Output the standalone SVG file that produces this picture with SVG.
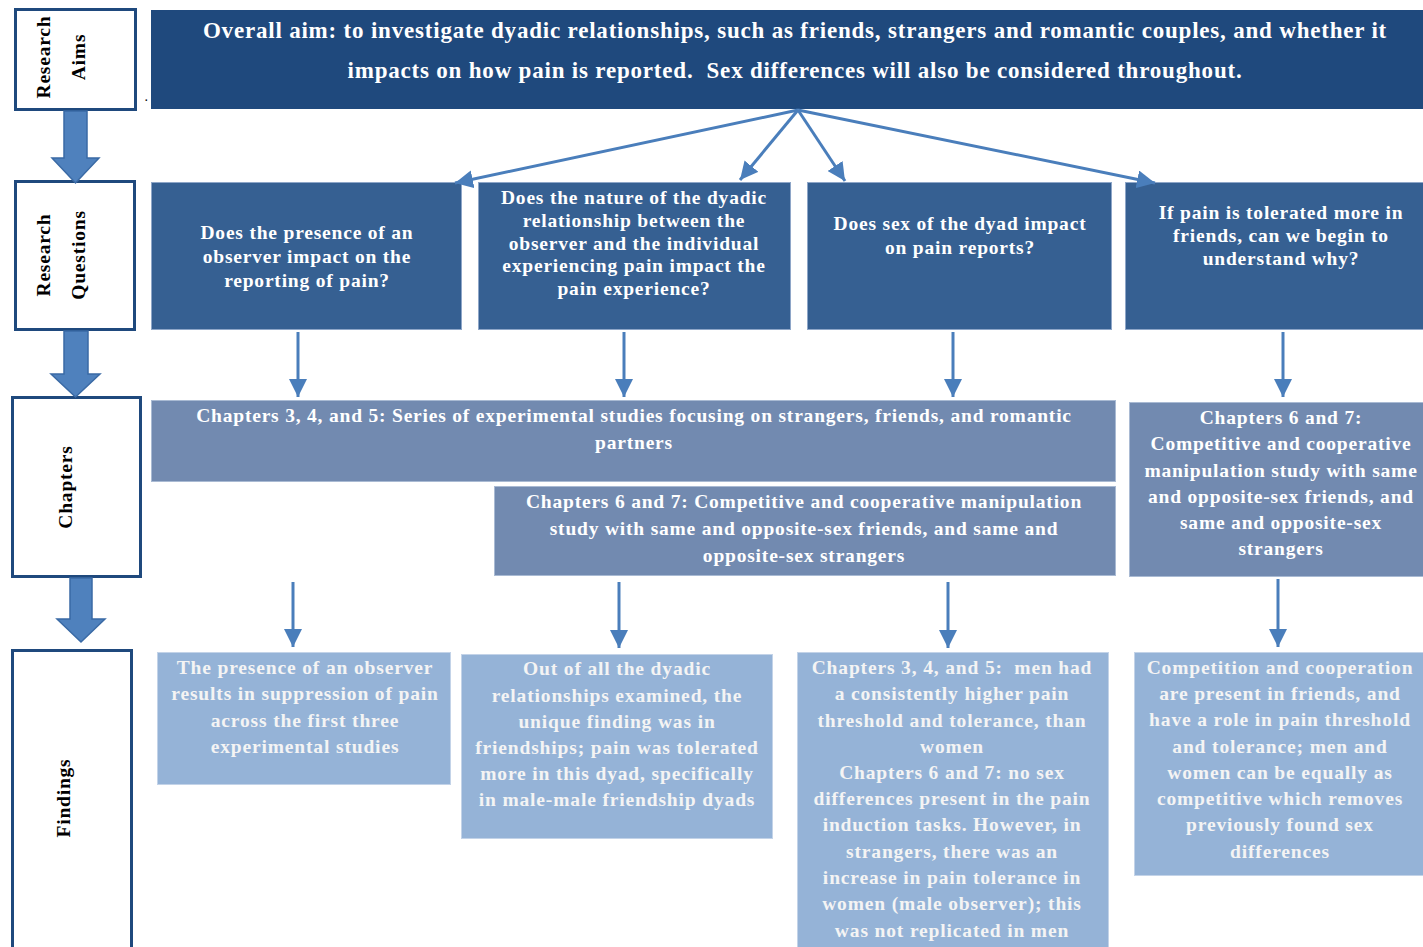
<svg xmlns="http://www.w3.org/2000/svg" width="1423" height="947" viewBox="0 0 1423 947">
<defs>
<style>
text{font-family:"Liberation Serif","Times New Roman",serif;font-weight:bold;letter-spacing:0.8px;}
.lbl{fill:#fff;stroke:#1f497d;stroke-width:3;}
.lt{font-size:19.5px;fill:#000;text-anchor:middle;}
.big{fill:#4f81bd;stroke:#3a6aa5;stroke-width:1.5;}
.aim{fill:#1f497d;}
.q{fill:#366092;stroke:#8ea6c8;stroke-width:1;}
.c{fill:#728ab0;stroke:#a9bad3;stroke-width:1;}
.f{fill:#95b3d7;stroke:#c3d3e8;stroke-width:1;}
.wt{fill:#fff;text-anchor:middle;font-size:19.5px;}
.ft{fill:#f4f4f4;text-anchor:middle;font-size:19.5px;letter-spacing:0.85px;}
.at{fill:#fff;text-anchor:middle;font-size:23px;white-space:pre;}
.con{stroke:#4a7ebb;stroke-width:3;fill:none;marker-end:url(#ah);}
</style>
<marker id="ah" markerUnits="userSpaceOnUse" markerWidth="18" markerHeight="18" viewBox="0 0 18 18" refX="18" refY="9" orient="auto">
<path d="M0,0 L18,9 L0,18 Z" fill="#4a7ebb"/>
</marker>
</defs>

<g id="label-aims">
<rect class="lbl" x="15.5" y="9.5" width="120" height="100"/>
<text class="lt" transform="translate(50,57) rotate(-90)">Research</text>
<text class="lt" transform="translate(85,57) rotate(-90)">Aims</text>
</g>
<g id="label-questions">
<rect class="lbl" x="15.5" y="181.5" width="119" height="148"/>
<text class="lt" transform="translate(50,255) rotate(-90)">Research</text>
<text class="lt" transform="translate(85,255) rotate(-90)">Questions</text>
</g>
<g id="label-chapters">
<rect class="lbl" x="12.5" y="397.5" width="128" height="179"/>
<text class="lt" transform="translate(72,487) rotate(-90)">Chapters</text>
</g>
<g id="label-findings">
<rect class="lbl" x="12.5" y="650.5" width="119" height="310"/>
<text class="lt" transform="translate(70,798) rotate(-90)">Findings</text>
</g>

<g id="big-arrows">
<path class="big" d="M64,111 H87 V158 H99 L75.5,183 L52,158 H64 Z"/>
<path class="big" d="M64,331 H88 V374 H100 L75.5,397 L51,374 H64 Z"/>
<path class="big" d="M70,578 H92 V619 H105 L81,642 L57,619 H70 Z"/>
</g>

<text x="145" y="101" font-size="10" fill="#000">.</text>

<g id="aim">
<rect class="aim" x="151" y="10" width="1272" height="99"/>
<text class="at" x="795" y="38">Overall aim: to investigate dyadic relationships, such as friends, strangers and romantic couples, and whether it</text>
<text class="at" x="795" y="78">impacts on how pain is reported.  Sex differences will also be considered throughout.</text>
</g>

<g id="q1">
<rect class="q" x="151.5" y="182.5" width="310" height="147"/>
<text class="wt" x="307"><tspan x="307" y="239">Does the presence of an</tspan><tspan x="307" y="263">observer impact on the</tspan><tspan x="307" y="287">reporting of pain?</tspan></text>
</g>
<g id="q2">
<rect class="q" x="478.5" y="182.5" width="312" height="147"/>
<text class="wt"><tspan x="634" y="204">Does the nature of the dyadic</tspan><tspan x="634" y="227">relationship between the</tspan><tspan x="634" y="250">observer and the individual</tspan><tspan x="634" y="272">experiencing pain impact the</tspan><tspan x="634" y="295">pain experience?</tspan></text>
</g>
<g id="q3">
<rect class="q" x="807.5" y="182.5" width="304" height="147"/>
<text class="wt"><tspan x="960" y="230">Does sex of the dyad impact</tspan><tspan x="960" y="254">on pain reports?</tspan></text>
</g>
<g id="q4">
<rect class="q" x="1125.5" y="182.5" width="300" height="147"/>
<text class="wt"><tspan x="1281" y="219">If pain is tolerated more in</tspan><tspan x="1281" y="242">friends, can we begin to</tspan><tspan x="1281" y="265">understand why?</tspan></text>
</g>

<g id="c1">
<rect class="c" x="151.5" y="400.5" width="964" height="81"/>
<text class="wt"><tspan x="634" y="422">Chapters 3, 4, and 5: Series of experimental studies focusing on strangers, friends, and romantic</tspan><tspan x="634" y="449">partners</tspan></text>
</g>
<g id="c2">
<rect class="c" x="494.5" y="486.5" width="621" height="89"/>
<text class="wt"><tspan x="804" y="508">Chapters 6 and 7: Competitive and cooperative manipulation</tspan><tspan x="804" y="535">study with same and opposite-sex friends, and same and</tspan><tspan x="804" y="562">opposite-sex strangers</tspan></text>
</g>
<g id="c3">
<rect class="c" x="1129.5" y="402.5" width="296" height="174"/>
<text class="wt"><tspan x="1281" y="424">Chapters 6 and 7:</tspan><tspan x="1281" y="450">Competitive and cooperative</tspan><tspan x="1281" y="477">manipulation study with same</tspan><tspan x="1281" y="503">and opposite-sex friends, and</tspan><tspan x="1281" y="529">same and opposite-sex</tspan><tspan x="1281" y="555">strangers</tspan></text>
</g>

<g id="f1">
<rect class="f" x="157.5" y="652.5" width="293" height="132"/>
<text class="ft"><tspan x="305" y="674">The presence of an observer</tspan><tspan x="305" y="700">results in suppression of pain</tspan><tspan x="305" y="727">across the first three</tspan><tspan x="305" y="753">experimental studies</tspan></text>
</g>
<g id="f2">
<rect class="f" x="461.5" y="654.5" width="311" height="184"/>
<text class="ft"><tspan x="617" y="675">Out of all the dyadic</tspan><tspan x="617" y="702">relationships examined, the</tspan><tspan x="617" y="728">unique finding was in</tspan><tspan x="617" y="754">friendships; pain was tolerated</tspan><tspan x="617" y="780">more in this dyad, specifically</tspan><tspan x="617" y="806">in male-male friendship dyads</tspan></text>
</g>
<g id="f3">
<rect class="f" x="797.5" y="652.5" width="311" height="300"/>
<text class="ft" style="white-space:pre"><tspan x="952" y="674">Chapters 3, 4, and 5:  men had</tspan><tspan x="952" y="700">a consistently higher pain</tspan><tspan x="952" y="727">threshold and tolerance, than</tspan><tspan x="952" y="753">women</tspan><tspan x="952" y="779">Chapters 6 and 7: no sex</tspan><tspan x="952" y="805">differences present in the pain</tspan><tspan x="952" y="831">induction tasks. However, in</tspan><tspan x="952" y="858">strangers, there was an</tspan><tspan x="952" y="884">increase in pain tolerance in</tspan><tspan x="952" y="910">women (male observer); this</tspan><tspan x="952" y="937">was not replicated in men</tspan></text>
</g>
<g id="f4">
<rect class="f" x="1134.5" y="652.5" width="290" height="223"/>
<text class="ft"><tspan x="1280" y="674">Competition and cooperation</tspan><tspan x="1280" y="700">are present in friends, and</tspan><tspan x="1280" y="726">have a role in pain threshold</tspan><tspan x="1280" y="753">and tolerance; men and</tspan><tspan x="1280" y="779">women can be equally as</tspan><tspan x="1280" y="805">competitive which removes</tspan><tspan x="1280" y="831">previously found sex</tspan><tspan x="1280" y="858">differences</tspan></text>
</g>

<g id="connectors">
<line class="con" x1="798" y1="110" x2="455" y2="183"/>
<line class="con" x1="798" y1="110" x2="740" y2="180"/>
<line class="con" x1="798" y1="110" x2="845" y2="181"/>
<line class="con" x1="798" y1="110" x2="1155" y2="183"/>
<line class="con" x1="298" y1="332" x2="298" y2="397"/>
<line class="con" x1="624" y1="332" x2="624" y2="397"/>
<line class="con" x1="953" y1="332" x2="953" y2="397"/>
<line class="con" x1="1283" y1="332" x2="1283" y2="397"/>
<line class="con" x1="293" y1="582" x2="293" y2="647"/>
<line class="con" x1="619" y1="582" x2="619" y2="648"/>
<line class="con" x1="948" y1="582" x2="948" y2="648"/>
<line class="con" x1="1278" y1="579" x2="1278" y2="647"/>
</g>
</svg>
